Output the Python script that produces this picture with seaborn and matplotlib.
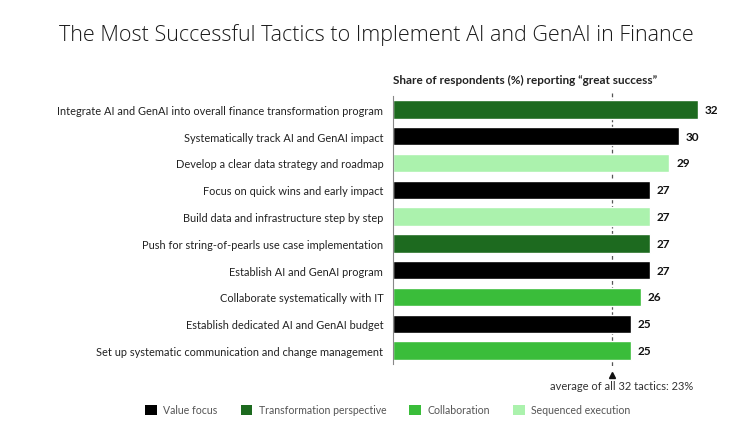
import numpy as np
import pandas as pd
import matplotlib
matplotlib.use("Agg")
import matplotlib.pyplot as plt
from matplotlib.patches import Patch
import seaborn as sns

# chart data
tactics = [
    "Integrate AI and GenAI into overall finance transformation program",
    "Systematically track AI and GenAI impact",
    "Develop a clear data strategy and roadmap",
    "Focus on quick wins and early impact",
    "Build data and infrastructure step by step",
    "Push for string-of-pearls use case implementation",
    "Establish AI and GenAI program",
    "Collaborate systematically with IT",
    "Establish dedicated AI and GenAI budget",
    "Set up systematic communication and change management",
]
shares = [32, 30, 29, 27, 27, 27, 27, 26, 25, 25]
groups = [
    "Transformation perspective", "Value focus", "Sequenced execution",
    "Value focus", "Sequenced execution", "Transformation perspective",
    "Value focus", "Collaboration", "Value focus", "Collaboration",
]
group_order = ["Value focus", "Transformation perspective", "Collaboration", "Sequenced execution"]
group_colors = ["#000000", "#1d6a1f", "#3abd3a", "#abf2ad"]
average = 23

df = pd.DataFrame({"tactic": tactics, "share": shares, "group": groups})
palette = dict(zip(group_order, group_colors))

sns.set_style("white")
plt.rcParams['font.family'] = ['Lato', 'DejaVu Sans']

fig = plt.figure(figsize=(7.53, 4.35), dpi=100)
ax = fig.add_axes([393 / 753, 1 - 365 / 435, 305 / 753 * 33 / 32, 268 / 435])

sns.barplot(data=df, x="share", y="tactic", hue="group", hue_order=group_order,
            palette=palette, dodge=False, width=0.68, legend=False, ax=ax,
            orient="h", saturation=1)

ax.set_xlim(0, 33)
ax.set_ylim(9.5, -0.5)
ax.set_xlabel("")
ax.set_ylabel("")
ax.set_xticks([])
ax.tick_params(axis="y", length=0, labelsize=7.9, pad=7, colors="#222222")
for s in ["top", "right", "bottom"]:
    ax.spines[s].set_visible(False)
ax.spines["left"].set_color("#888888")
ax.spines["left"].set_linewidth(0.8)

for i, v in enumerate(shares):
    ax.text(v + 0.7, i, str(v), va="center", ha="left", fontsize=8.5,
            fontweight="bold", color="#111111")

# average line with marker
ax.plot([average, average], [-0.6, 9.65], ls=(0, (3, 2)), color="#555555", lw=0.9,
        clip_on=False, zorder=0)
ax.plot([average], [9.9], marker="^", color="#111111", markersize=5, clip_on=False)
ax.text(average + 1.0, 10.3, "average of all 32 tactics: 23%", ha="center",
        va="center", fontsize=8.0, color="#333333", clip_on=False)

fig.text(393 / 753, 1 - 80 / 435, "Share of respondents (%) reporting \u201cgreat success\u201d",
         fontsize=8.5, fontweight="bold", ha="left", va="center", color="#222222")
fig.text(0.5, 1 - 35 / 435, "The Most Successful Tactics to Implement AI and GenAI in Finance",
         fontsize=15.5, fontweight=300, ha="center", va="center", color="#1a1a1a",
         family=["Open Sans", "DejaVu Sans"])

handles = [Patch(facecolor=c, edgecolor="none") for c in group_colors]
fig.legend(handles, group_order, loc="center", bbox_to_anchor=(0.515, 1 - 411 / 435),
           ncol=4, frameon=False, fontsize=7.6, handlelength=1.1, handleheight=1.1,
           columnspacing=2.2, handletextpad=0.6, labelcolor="#555555")

fig.savefig("out.png", dpi=100)
